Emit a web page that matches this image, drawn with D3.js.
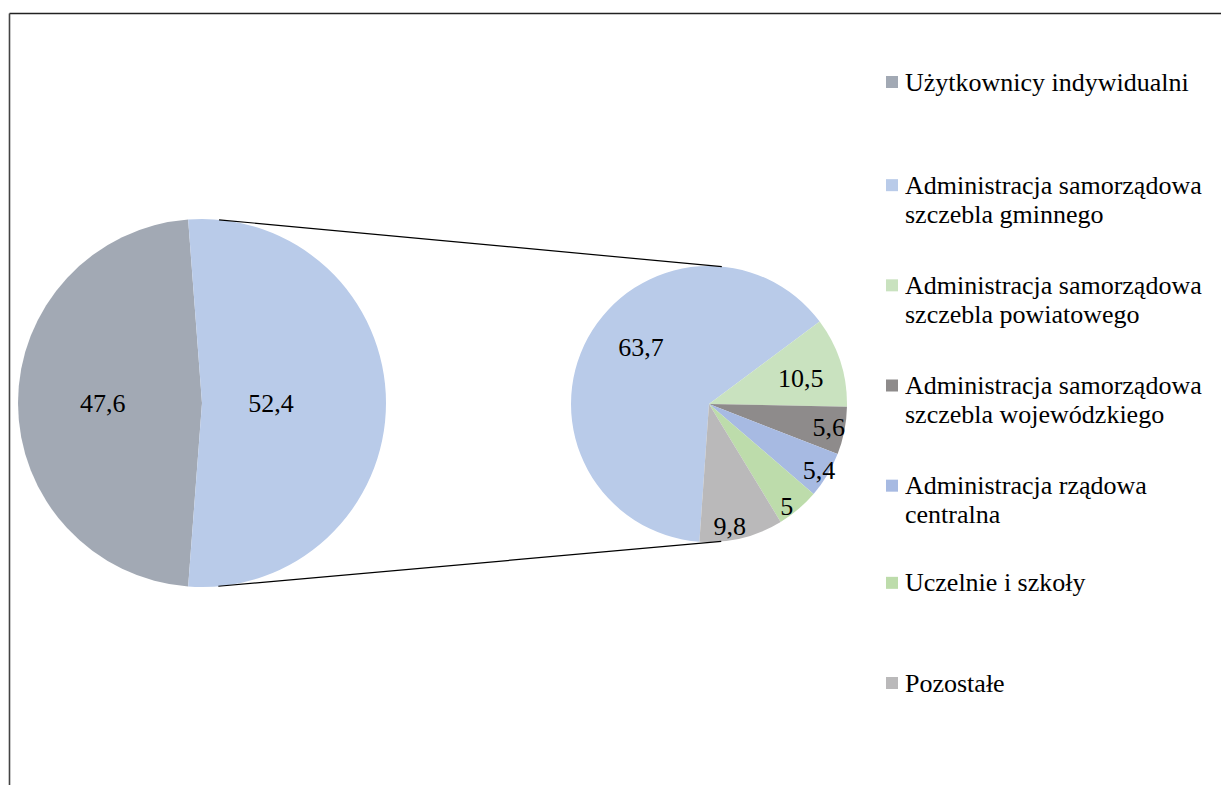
<!DOCTYPE html>
<html>
<head>
<meta charset="utf-8">
<script src="https://cdn.jsdelivr.net/npm/d3@7"></script>
<style>
  body { margin: 0; background: #fff; }
  text { font-family: "Liberation Serif", "Times New Roman", serif; fill: #000; }
</style>
</head>
<body>
<div id="chart"></div>
<script>
// main pie: individual users vs. the rest (exploded into the second pie)
var mainLabels = ["Użytkownicy indywidualni", "Pozostali (razem)"];
var mainValues = [47.6, 52.4];

// second pie: breakdown of the 52,4 share
var subCategories = [
  "Administracja samorządowa szczebla gminnego",
  "Administracja samorządowa szczebla powiatowego",
  "Administracja samorządowa szczebla wojewódzkiego",
  "Administracja rządowa centralna",
  "Uczelnie i szkoły",
  "Pozostałe"
];
var subValues = [63.7, 10.5, 5.6, 5.4, 5, 9.8];

// legend text, wrapped like the original
var legendLines = [
  ["Użytkownicy indywidualni"],
  ["Administracja samorządowa", "szczebla gminnego"],
  ["Administracja samorządowa", "szczebla powiatowego"],
  ["Administracja samorządowa", "szczebla wojewódzkiego"],
  ["Administracja rządowa", "centralna"],
  ["Uczelnie i szkoły"],
  ["Pozostałe"]
];

var mainColors = ["#a2a9b4", "#b9cbe9"];
var subColors = ["#b9cbe9", "#c9e2bf", "#8e8b8b", "#a7bae2", "#bddcab", "#bab9ba"];
var legendColors = ["#a2a9b4", "#b9cbe9", "#c9e2bf", "#8e8b8b", "#a7bae2", "#bddcab", "#bab9ba"];

var W = 1221, H = 785;
var fmt = function(v) { return String(v).replace(".", ","); };

var svg = d3.select("#chart").append("svg")
  .attr("width", W)
  .attr("height", H);

// frame (only top and left edges visible)
svg.append("line").attr("x1", 9.5).attr("y1", 13.5).attr("x2", W).attr("y2", 13.5)
  .attr("stroke", "#222").attr("stroke-width", 1.6);
svg.append("line").attr("x1", 9.5).attr("y1", 13.5).attr("x2", 9.5).attr("y2", H)
  .attr("stroke", "#444").attr("stroke-width", 1.6);

// geometry
var c1 = {x: 202, y: 403, r: 184};
var c2 = {x: 709, y: 404, r: 138};
var deg = Math.PI / 180;

// main pie: the "rest" slice is centred pointing right
var restAngle = mainValues[1] / d3.sum(mainValues) * 2 * Math.PI;
var pie1 = d3.pie().sort(null)
  .startAngle(Math.PI / 2 + restAngle / 2)
  .endAngle(Math.PI / 2 + restAngle / 2 + 2 * Math.PI);
var arc1 = d3.arc().innerRadius(0).outerRadius(c1.r);
var label1R = [0.54, 0.375];

var g1 = svg.append("g").attr("transform", "translate(" + c1.x + "," + c1.y + ")");
var a1 = pie1(mainValues);
g1.selectAll("path").data(a1).enter().append("path")
  .attr("d", arc1)
  .attr("fill", function(d, i) { return mainColors[i]; });
g1.selectAll("text").data(a1).enter().append("text")
  .attr("transform", function(d, i) {
    var r = c1.r * label1R[i];
    return "translate(" + d3.arc().innerRadius(r).outerRadius(r).centroid(d) + ")";
  })
  .attr("text-anchor", "middle")
  .attr("dy", "0.33em")
  .style("font-size", "26px")
  .text(function(d) { return fmt(d.data); });

// second pie
var pie2 = d3.pie().sort(null)
  .startAngle(-176 * deg)
  .endAngle(184 * deg);
var arc2 = d3.arc().innerRadius(0).outerRadius(c2.r);
var label2R = [0.64, 0.69, 0.885, 0.93, 0.93, 0.9];
var label2Shift = [11, 2, 0, 0, 3, 4];

var g2 = svg.append("g").attr("transform", "translate(" + c2.x + "," + c2.y + ")");
var a2 = pie2(subValues);
g2.selectAll("path").data(a2).enter().append("path")
  .attr("d", arc2)
  .attr("fill", function(d, i) { return subColors[i]; });
g2.selectAll("text").data(a2).enter().append("text")
  .attr("transform", function(d, i) {
    var r = c2.r * label2R[i];
    var m = (d.startAngle + d.endAngle) / 2 + label2Shift[i] * deg;
    return "translate(" + (r * Math.sin(m)) + "," + (-r * Math.cos(m)) + ")";
  })
  .attr("text-anchor", "middle")
  .attr("dy", "0.33em")
  .style("font-size", "26px")
  .text(function(d) { return fmt(d.data); });

// connector lines: outer tangents of the two circles
var dx = c2.x - c1.x, dy = c2.y - c1.y, dist = Math.sqrt(dx * dx + dy * dy);
var phi = Math.asin((c1.r - c2.r) / dist);
[-1, 1].forEach(function(s) {
  // normal direction of tangent
  var base = Math.atan2(dy, dx) + s * (Math.PI / 2 - phi);
  var nx = Math.cos(base), ny = Math.sin(base);
  svg.append("line")
    .attr("x1", c1.x + c1.r * nx).attr("y1", c1.y + c1.r * ny)
    .attr("x2", c2.x + c2.r * nx).attr("y2", c2.y + c2.r * ny)
    .attr("stroke", "#000").attr("stroke-width", 1.2);
});

// legend
var legendY = d3.scalePoint().domain(d3.range(legendLines.length)).range([82, 683]);
var lg = svg.append("g");
legendLines.forEach(function(lines, i) {
  var y = legendY(i) + (lines.length > 1 ? 3 : 0);
  lg.append("rect")
    .attr("x", 886).attr("y", y - 6)
    .attr("width", 12).attr("height", 12)
    .attr("fill", legendColors[i]);
  var t = lg.append("text")
    .attr("x", 905).attr("y", y)
    .style("font-size", "26px");
  lines.forEach(function(line, j) {
    t.append("tspan").attr("x", 905).attr("dy", j === 0 ? "0.33em" : "29px").text(line);
  });
});
</script>
</body>
</html>
